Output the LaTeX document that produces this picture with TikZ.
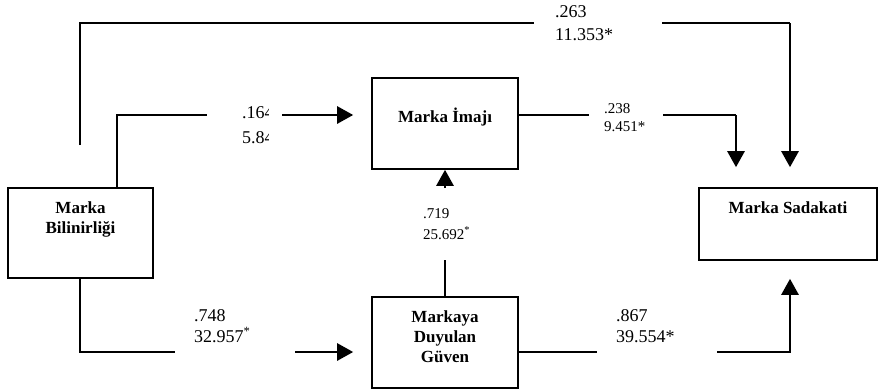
\documentclass[tikz,border=0pt]{standalone}
\usepackage{fontspec}
\setmainfont{Liberation Serif}
\usetikzlibrary{arrows.meta}
\begin{document}
\begin{tikzpicture}[x=1pt,y=-1pt,
  box/.style={draw, line width=1.6pt, rectangle, inner sep=0pt},
  boxtext/.style={font=\fontsize{17}{20}\selectfont\bfseries, anchor=base, inner sep=0pt},
  thinln/.style={line width=1.2pt},
  midln/.style={line width=1.8pt},
  thickln/.style={line width=2.6pt},
  arr/.style={-{Triangle[length=16pt,width=17pt]}},
  lblL/.style={font=\fontsize{18}{21}\selectfont, anchor=base west, inner sep=0pt},
  lblS/.style={font=\fontsize{15}{18}\selectfont, anchor=base west, inner sep=0pt},
]
\useasboundingbox (0,0) rectangle (878,391);

% boxes
\node[box, minimum width=145pt, minimum height=90pt] (bil) at (80.5,233) {};
\node[box, minimum width=146pt, minimum height=91pt] (ima) at (445,123.5) {};
\node[box, minimum width=146pt, minimum height=91pt] (guv) at (445,342.5) {};
\node[box, minimum width=178pt, minimum height=72pt] (sad) at (788,224) {};

\node[boxtext] (bilt1) at (80.5,213) {Marka};
\node[boxtext] (bilt2) at (80.5,233) {Bilinirliği};
\node[boxtext] (imat) at (445,122) {Marka İmajı};
\node[boxtext] (guvt1) at (445,322) {Markaya};
\node[boxtext] (guvt2) at (445,342) {Duyulan};
\node[boxtext] (guvt3) at (445,362) {Güven};
\node[boxtext] (sadt) at (788,213) {Marka Sadakati};

% 1: top connector
\coordinate (t0) at (80,145);
\coordinate (t1) at (80,23);
\coordinate (t2) at (534,23);
\coordinate (t3) at (662,23);
\coordinate (t4) at (790,23);
\draw[thinln] (t0) -- (t1) -- (t2);
\draw[thinln] (t3) -- (t4);
\draw[thickln, arr, shorten >=20pt] (t4) -- (t4 |- sad.north);
\node[lblL] (l263) at (555,17) {.263};
\node[lblL] (l11353) at (555,40) {11.353*};

% 2: Bilinirlik -> Imaj
\coordinate (u1) at (117,115);
\coordinate (u2) at (207,115);
\coordinate (u3) at (282,115);
\draw[thickln] (bil.north -| u1) -- (u1) -- (u2);
\draw[thickln, arr, shorten >=18pt] (u3) -- (u3 -| ima.west);
\begin{scope}
  \clip (230,95) rectangle (268,150);
  \node[lblL] (l164) at (242,118) {.164};
  \node[lblL] (l584) at (242,143) {5.847};
\end{scope}

% 3: Imaj -> Sadakat
\coordinate (m1) at (589,115);
\coordinate (m2) at (663,115);
\coordinate (m3) at (736,115);
\draw[thinln] (m1 -| ima.east) -- (m1);
\draw[midln] (m2) -- (m3);
\draw[thickln, arr, shorten >=20pt] (m3) -- (m3 |- sad.north);
\node[lblS] (l238) at (604,113) {.238};
\node[lblS] (l9451) at (604,131) {9.451*};

% 4: Guven -> Imaj
\coordinate (g1) at (445,260);
\coordinate (g2) at (445,188);
\draw[thickln] (guv.north) -- (g1);
\draw[thickln, arr] (g2) -- (ima.south);
\node[lblS] (l719) at (423,218) {.719};
\node[lblS] (l25692) at (423,239) {25.692\textsuperscript{*}};

% 5: Bilinirlik -> Guven
\coordinate (b1) at (80,352);
\coordinate (b2) at (175,352);
\coordinate (b3) at (295,352);
\draw[thickln] (bil.south -| b1) -- (b1) -- (b2);
\draw[thickln, arr, shorten >=18pt] (b3) -- (b3 -| guv.west);
\node[lblL] (l748) at (194,321) {.748};
\node[lblL] (l32957) at (194,342) {32.957\textsuperscript{*}};

% 6: Guven -> Sadakat
\coordinate (s1) at (597,352);
\coordinate (s2) at (717,352);
\coordinate (s3) at (790,352);
\draw[thinln] (s1 -| guv.east) -- (s1);
\draw[thickln, arr, shorten >=18pt] (s2) -- (s3) -- (s3 |- sad.south);
\node[lblL] (l867) at (616,321) {.867};
\node[lblL] (l39554) at (616,342) {39.554*};
\end{tikzpicture}
\end{document}
